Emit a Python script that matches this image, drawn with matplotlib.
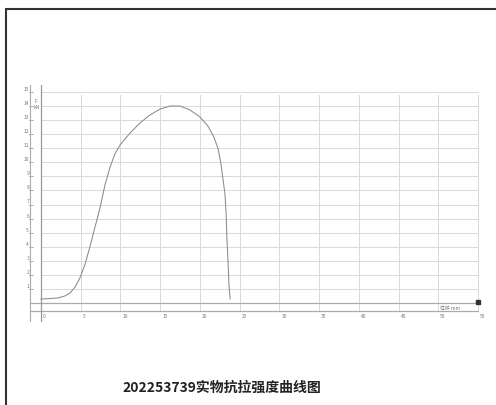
import matplotlib
matplotlib.use('Agg')
import matplotlib.pyplot as plt
from matplotlib.patches import Rectangle

plt.rcParams['font.family'] = ['Noto Sans CJK SC', 'DejaVu Sans']

# curve (x: grid units, y: grid units)
disp = [0, 0.23, 0.43, 0.6, 0.73, 0.86, 0.98, 1.11, 1.23, 1.36, 1.49, 1.61, 1.74, 1.86,
        1.99, 2.24, 2.49, 2.74, 3.0, 3.25, 3.5, 3.75, 4.0, 4.2, 4.35, 4.46, 4.53, 4.58,
        4.63, 4.66, 4.68, 4.71, 4.73, 4.76]
force = [0.28, 0.32, 0.36, 0.5, 0.71, 1.14, 1.78, 2.77, 3.98, 5.4, 6.82, 8.39, 9.67, 10.59,
         11.23, 12.08, 12.79, 13.36, 13.79, 14.0, 14.0, 13.72, 13.22, 12.58, 11.8, 10.94,
         9.88, 8.81, 7.75, 6.33, 4.55, 2.77, 1.35, 0.28]
x_ticks = list(range(12))
x_labels = ['0', '5', '10', '15', '20', '25', '30', '35', '40', '45', '50', '55']
y_ticks = list(range(1, 16))
y_labels = [str(v) for v in y_ticks]
title = '202253739实物抗拉强度曲线图'

W, H = 496, 406
fig = plt.figure(figsize=(W / 100, H / 100), dpi=100)

# outer frame
fig.patches.append(Rectangle((6 / W, -0.1), 1.2, (H - 10) / H + 0.1, transform=fig.transFigure,
                             fill=False, edgecolor='#333333', linewidth=1.5))

x0, sx = 41, 39.73
y0, sy = 304, 14.07
xlim = (-0.4, 11.2)
ylim = (-1.5, 15.5)
left = (x0 + sx * xlim[0]) / W
right = (x0 + sx * xlim[1]) / W
bottom = (H - (y0 - sy * ylim[0])) / H
top = (H - (y0 - sy * ylim[1])) / H
ax = fig.add_axes([left, bottom, right - left, top - bottom])
ax.set_xlim(*xlim)
ax.set_ylim(*ylim)
ax.axis('off')

grid_c = '#d9d9d9'
for xv in x_ticks[1:]:
    ax.plot([xv, xv], [-0.57, 14.8], color=grid_c, lw=0.7)
for yv in y_ticks:
    ax.plot([0, 11], [yv, yv], color=grid_c, lw=0.7)
    ax.plot([-0.3, -0.2], [yv, yv], color='#aaaaaa', lw=0.6)

ax.plot([-0.28, 11], [0, 0], color='#aaaaaa', lw=0.9)
ax.plot([-0.28, 11], [-0.57, -0.57], color='#aaaaaa', lw=0.9)
ax.plot([0, 0], [-1.3, 16.0], color='#999999', lw=0.9)
ax.plot([-0.28, -0.28], [-1.3, 15.5], color='#aaaaaa', lw=0.8)
ax.plot([11], [0.05], marker='s', color='#333333', ms=3)
ax.plot([0], [16.0], marker='s', color='#333333', ms=3)

for xv, lab in zip(x_ticks, x_labels):
    ax.text(xv + 0.05, -0.9, lab, fontsize=3.5, color='#777777', ha='left', va='center')
for yv, lab in zip(y_ticks, y_labels):
    ax.text(-0.3, yv + 0.25, lab, fontsize=3.5, color='#777777', ha='right', va='center')
ax.text(10.3, -0.3, '位移 mm', fontsize=3.5, color='#777777', ha='center', va='center')
ax.text(-0.12, 14.2, 'F\nkN', fontsize=3.5, color='#777777', ha='center', va='center')

ax.plot(disp, force, color='#8a8a8a', lw=0.75)

fig.text(222 / W, 1 - 388 / H, title, fontsize=10, fontweight='bold', color='#222222',
         ha='center', va='center')

fig.savefig('out.png', dpi=100)
